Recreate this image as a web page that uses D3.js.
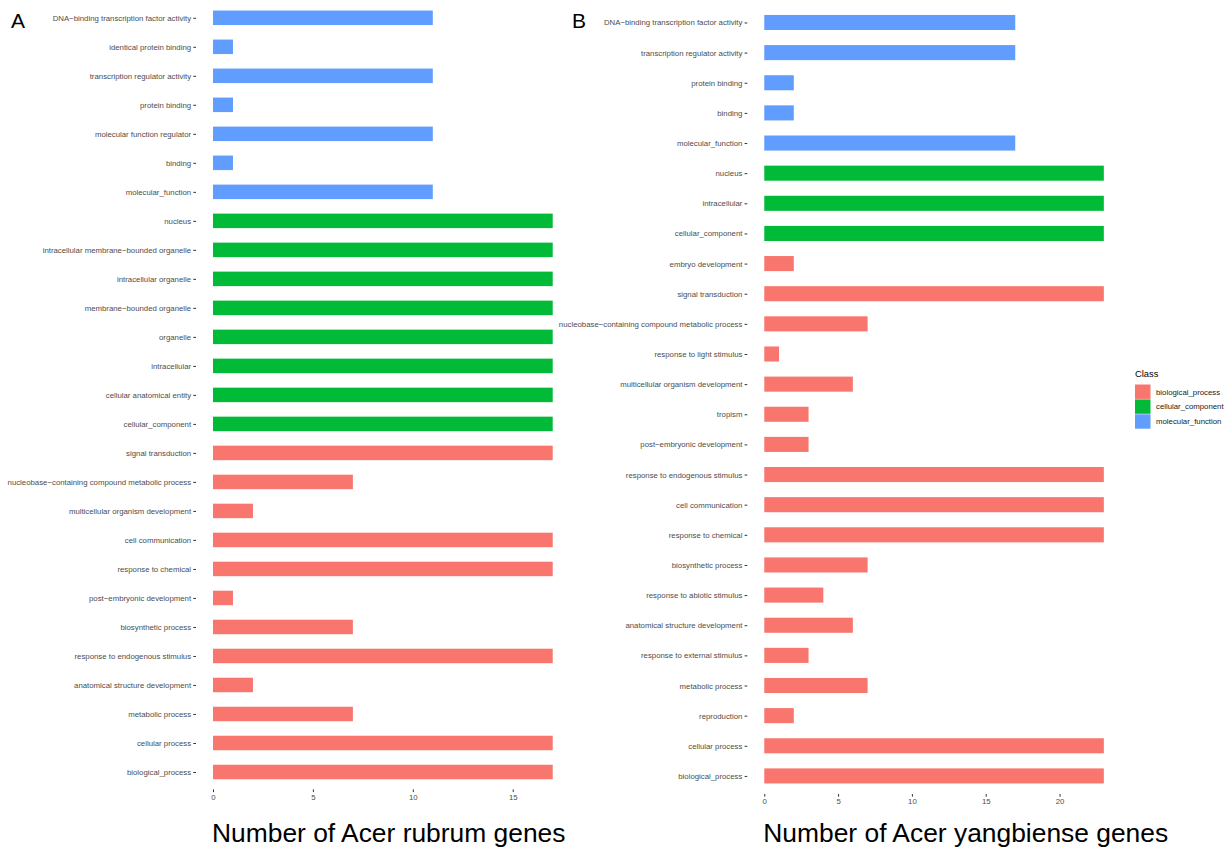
<!DOCTYPE html>
<html>
<head>
<meta charset="utf-8">
<script src="https://cdn.jsdelivr.net/npm/d3@7"></script>
<style>
  html, body { margin: 0; padding: 0; background: #fff; }
  svg { display: block; font-family: "Liberation Sans", Arial, Helvetica, sans-serif; }
</style>
</head>
<body>
<svg id="chart" width="1228" height="848"></svg>
<script>
// GO term counts for Acer rubrum (panel A), listed top to bottom
const rubrumTerms = [
  "DNA\u2212binding transcription factor activity",
  "identical protein binding",
  "transcription regulator activity",
  "protein binding",
  "molecular function regulator",
  "binding",
  "molecular_function",
  "nucleus",
  "intracellular membrane\u2212bounded organelle",
  "intracellular organelle",
  "membrane\u2212bounded organelle",
  "organelle",
  "intracellular",
  "cellular anatomical entity",
  "cellular_component",
  "signal transduction",
  "nucleobase\u2212containing compound metabolic process",
  "multicellular organism development",
  "cell communication",
  "response to chemical",
  "post\u2212embryonic development",
  "biosynthetic process",
  "response to endogenous stimulus",
  "anatomical structure development",
  "metabolic process",
  "cellular process",
  "biological_process"
];
const rubrumCounts = [11, 1, 11, 1, 11, 1, 11, 17, 17, 17, 17, 17, 17, 17, 17, 17, 7, 2, 17, 17, 1, 7, 17, 2, 7, 17, 17];
const rubrumClass = [
  "molecular_function", "molecular_function", "molecular_function", "molecular_function",
  "molecular_function", "molecular_function", "molecular_function",
  "cellular_component", "cellular_component", "cellular_component", "cellular_component",
  "cellular_component", "cellular_component", "cellular_component", "cellular_component",
  "biological_process", "biological_process", "biological_process", "biological_process",
  "biological_process", "biological_process", "biological_process", "biological_process",
  "biological_process", "biological_process", "biological_process", "biological_process"
];

// GO term counts for Acer yangbiense (panel B), listed top to bottom
const yangbienseTerms = [
  "DNA\u2212binding transcription factor activity",
  "transcription regulator activity",
  "protein binding",
  "binding",
  "molecular_function",
  "nucleus",
  "intracellular",
  "cellular_component",
  "embryo development",
  "signal transduction",
  "nucleobase\u2212containing compound metabolic process",
  "response to light stimulus",
  "multicellular organism development",
  "tropism",
  "post\u2212embryonic development",
  "response to endogenous stimulus",
  "cell communication",
  "response to chemical",
  "biosynthetic process",
  "response to abiotic stimulus",
  "anatomical structure development",
  "response to external stimulus",
  "metabolic process",
  "reproduction",
  "cellular process",
  "biological_process"
];
const yangbienseCounts = [17, 17, 2, 2, 17, 23, 23, 23, 2, 23, 7, 1, 6, 3, 3, 23, 23, 23, 7, 4, 6, 3, 7, 2, 23, 23];
const yangbienseClass = [
  "molecular_function", "molecular_function", "molecular_function", "molecular_function", "molecular_function",
  "cellular_component", "cellular_component", "cellular_component",
  "biological_process", "biological_process", "biological_process", "biological_process",
  "biological_process", "biological_process", "biological_process", "biological_process",
  "biological_process", "biological_process", "biological_process", "biological_process",
  "biological_process", "biological_process", "biological_process", "biological_process",
  "biological_process", "biological_process"
];

const classNames = ["biological_process", "cellular_component", "molecular_function"];
const classColors = ["#F8766D", "#00BA38", "#619CFF"];
const rubrumTicks = [0, 5, 10, 15];
const yangbienseTicks = [0, 5, 10, 15, 20];

const color = d3.scaleOrdinal().domain(classNames).range(classColors);
const svg = d3.select("#chart");

function drawPanel(opts) {
  const rows = opts.terms.map((t, i) => ({ term: t, count: opts.counts[i], cls: opts.classes[i] }));
  const maxVal = d3.max(opts.counts);
  const pad = maxVal * 0.05;

  const x = d3.scaleLinear()
    .domain([-pad, maxVal + pad])
    .range([opts.left, opts.right]);
  const y = d3.scalePoint()
    .domain(opts.terms)
    .range([opts.top, opts.bottom])
    .padding(0.6);
  const barH = y.step() * 0.5;

  const g = svg.append("g");

  g.selectAll("rect.bar")
    .data(rows)
    .join("rect")
    .attr("class", "bar")
    .attr("x", x(0))
    .attr("y", d => y(d.term) - barH / 2)
    .attr("width", d => x(d.count) - x(0))
    .attr("height", barH)
    .attr("fill", d => color(d.cls));

  // category axis
  const yAxis = d3.axisLeft(y).tickSize(2.7).tickPadding(2.2);
  const ya = g.append("g").attr("transform", `translate(${opts.left},0)`).call(yAxis);
  ya.select(".domain").remove();
  ya.selectAll(".tick line").attr("stroke", "#333333").attr("stroke-width", 1);
  ya.selectAll(".tick text").attr("fill", "#4D4D4D").style("font-size", "7.8px");

  // count axis
  const xAxis = d3.axisBottom(x).tickValues(opts.ticks).tickSize(2.7).tickPadding(2.2).tickFormat(d3.format("d"));
  const xa = g.append("g").attr("transform", `translate(0,${opts.bottom})`).call(xAxis);
  xa.select(".domain").remove();
  xa.selectAll(".tick line").attr("stroke", "#333333").attr("stroke-width", 1);
  xa.selectAll(".tick text").attr("fill", "#4D4D4D").style("font-size", "7.8px");

  // axis title
  g.append("text")
    .attr("x", x(0) - 1)
    .attr("y", 842)
    .attr("fill", "#000")
    .style("font-size", "26.4px")
    .text(opts.title);

  // panel tag
  g.append("text")
    .attr("x", opts.tagX)
    .attr("y", 28)
    .attr("fill", "#000")
    .style("font-size", "21px")
    .text(opts.tag);
}

drawPanel({
  terms: rubrumTerms, counts: rubrumCounts, classes: rubrumClass, ticks: rubrumTicks,
  left: 196, right: 569.7, top: 0.4, bottom: 789.4,
  title: "Number of Acer rubrum genes", tag: "A", tagX: 11
});

drawPanel({
  terms: yangbienseTerms, counts: yangbienseCounts, classes: yangbienseClass, ticks: yangbienseTicks,
  left: 747.3, right: 1120.8, top: 4.4, bottom: 794,
  title: "Number of Acer yangbiense genes", tag: "B", tagX: 572
});

// legend
const legend = svg.append("g").attr("transform", "translate(1135,0)");
legend.append("text")
  .attr("x", 0).attr("y", 377)
  .attr("fill", "#000")
  .style("font-size", "9.4px")
  .text("Class");
const items = legend.selectAll("g.item")
  .data(classNames)
  .join("g")
  .attr("class", "item")
  .attr("transform", (d, i) => `translate(0,${384.5 + i * 14.9})`);
items.append("rect")
  .attr("width", 15.5).attr("height", 14.4)
  .attr("fill", d => color(d));
items.append("text")
  .attr("x", 21).attr("y", 10)
  .attr("fill", "#1A1A1A")
  .style("font-size", "7.8px")
  .text(d => d);
</script>
</body>
</html>
